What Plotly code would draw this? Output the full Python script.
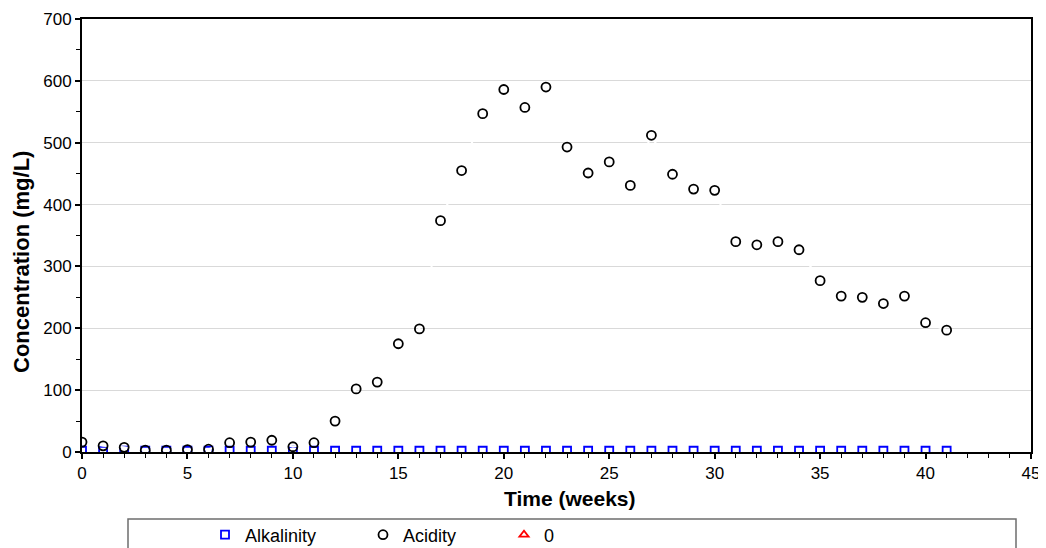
import plotly.graph_objects as go

weeks = list(range(0, 42))
acidity = [16, 10, 7.5, 3, 3, 4, 4.5, 15, 16, 19, 8.5, 15, 50, 102, 113, 175, 199,
           374, 455, 547, 586, 557, 590, 493, 451, 469, 431, 512, 449, 425, 423,
           340, 335, 340, 327, 277, 252, 250, 240, 252, 209, 197]
alkalinity = [2] * 42
zero_x = [0]
zero_y = [None]
x_title = "Time (weeks)"
y_title = "Concentration (mg/L)"

# page body has an 8px margin; figure margins compensate for it
W, H = 1046, 548
OFF = 8
PL, PR, PT, PB = 82, 1031, 19, 452  # plot area in page pixels

fig = go.Figure()
fig.add_trace(go.Scatter(
    x=weeks, y=alkalinity, name="Alkalinity", mode="markers", legend="legend",
    marker=dict(symbol="square-open", size=8, color="#0000ff", line=dict(width=1.8))))
fig.add_trace(go.Scatter(
    x=weeks, y=acidity, name="Acidity", mode="lines+markers", legend="legend2",
    line=dict(color="#ffffff", width=2),
    marker=dict(symbol="circle-open", size=9, color="#000000", line=dict(width=1.8))))
fig.add_trace(go.Scatter(
    x=zero_x, y=zero_y, name="0", mode="markers", legend="legend3",
    marker=dict(symbol="triangle-up-open", size=8, color="#ff0000", line=dict(width=1.8))))

font_family = "Liberation Sans, Arial, sans-serif"


def leg(px):
    return dict(xref="container", yref="container",
                x=(px - OFF - 20) / W, xanchor="left",
                y=(OFF + H - 535) / H, yanchor="middle",
                orientation="h", font=dict(size=18),
                bgcolor="rgba(0,0,0,0)", borderwidth=0)


def px_x(p):
    return (p - PL) / (PR - PL)


def px_y(p):
    return (PB - p) / (PB - PT)


fig.update_layout(
    width=W, height=H,
    margin=dict(l=PL - OFF, r=W + OFF - PR, t=PT - OFF, b=H + OFF - PB),
    paper_bgcolor="white", plot_bgcolor="white",
    font=dict(family=font_family, size=17, color="black"),
    showlegend=True,
    legend=leg(225), legend2=leg(383), legend3=leg(524),
    xaxis=dict(range=[0, 45], tick0=0, dtick=5, showgrid=False, zeroline=False,
               automargin=False, tickfont=dict(size=17),
               showline=True, linecolor="black", linewidth=2, mirror=True,
               ticks="outside", ticklen=5, tickwidth=1.5, tickcolor="black",
               minor=dict(dtick=1, ticks="outside", ticklen=4, tickwidth=1.2, tickcolor="black")),
    yaxis=dict(range=[0, 700], tick0=0, dtick=100, showgrid=True, gridcolor="#d9d9d9",
               gridwidth=1, zeroline=False, automargin=False, tickfont=dict(size=17),
               showline=True, linecolor="black", linewidth=2, mirror=True,
               ticks="outside", ticklen=5, tickwidth=1.5, tickcolor="black",
               minor=dict(dtick=50, ticks="outside", ticklen=4, tickwidth=1.2,
                          tickcolor="black", showgrid=False)),
    annotations=[
        dict(text="<b>" + x_title + "</b>", xref="paper", yref="paper",
             x=px_x(570), y=px_y(499), xanchor="center", yanchor="middle",
             showarrow=False, font=dict(size=21)),
        dict(text="<b>" + y_title + "</b>", xref="paper", yref="paper",
             x=px_x(21), y=px_y(262), xanchor="center", yanchor="middle",
             textangle=-90, showarrow=False, font=dict(size=22)),
    ],
    shapes=[dict(type="rect", xref="paper", yref="paper",
                 x0=px_x(128), x1=px_x(1016), y0=px_y(519), y1=-0.35,
                 line=dict(color="#6e6e6e", width=1.5), fillcolor="rgba(0,0,0,0)")],
)

fig.write_html("out.html")
